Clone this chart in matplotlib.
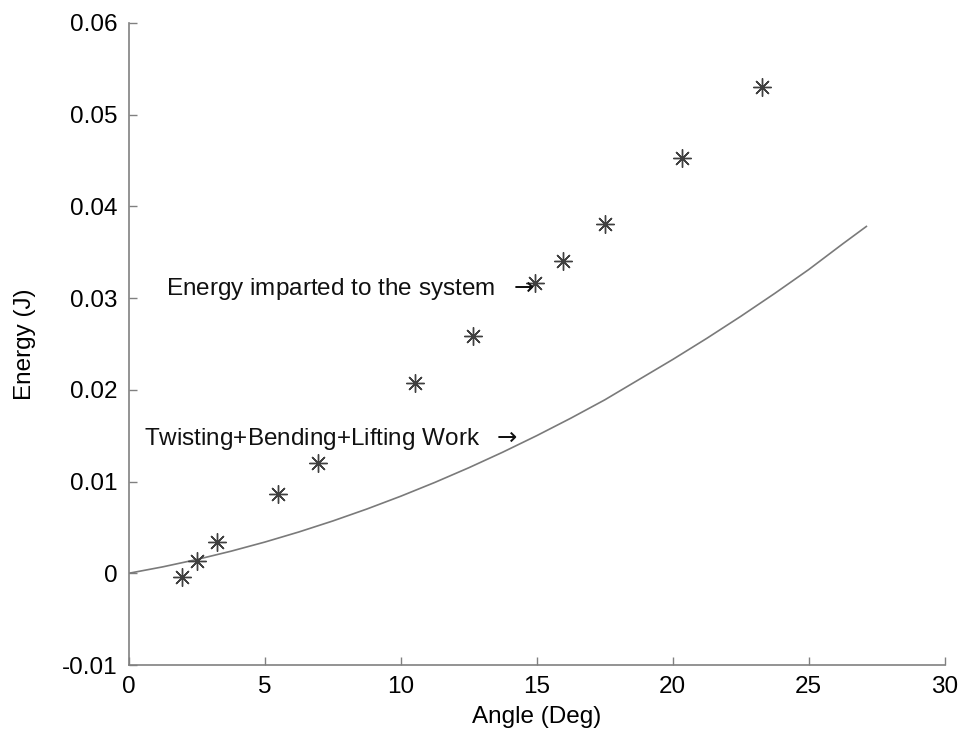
import numpy as np
import matplotlib.pyplot as plt

plt.rcParams['font.family'] = ['Liberation Sans', 'DejaVu Sans']
plt.rcParams['mathtext.fontset'] = 'dejavusans'

# measured points (asterisks)
angle_meas = [1.94, 2.49, 3.25, 5.48, 6.94, 10.51, 12.66, 14.93, 15.97, 17.50, 20.33, 23.30]
energy_meas = [-0.00036, 0.00135, 0.00337, 0.00866, 0.01207, 0.0207, 0.02584, 0.03163,
               0.03399, 0.03809, 0.04529, 0.05304]

# work curve
angle_work = [0, 1.25, 2.5, 3.75, 5, 6.25, 7.5, 8.75, 10, 11.25, 12.5, 13.75, 15, 16.25,
              17.5, 18.75, 20, 21.25, 22.5, 23.75, 25, 26.25, 27.12]
energy_work = [0, 0.0007, 0.0015, 0.0024, 0.0034, 0.0045, 0.0057, 0.0070, 0.0084, 0.0099,
               0.0115, 0.0132, 0.0150, 0.0169, 0.0189, 0.0211, 0.0233, 0.0256, 0.0280,
               0.0305, 0.0331, 0.0359, 0.0378]

xticks = [0, 5, 10, 15, 20, 25, 30]
yticks = [-0.01, 0, 0.01, 0.02, 0.03, 0.04, 0.05, 0.06]
ytick_labels = ['-0.01', '0', '0.01', '0.02', '0.03', '0.04', '0.05', '0.06']

fig = plt.figure(figsize=(9.62, 7.34), dpi=100)
ax = fig.add_axes([0.134, 0.094, 0.848, 0.875])

ax.plot(angle_work, energy_work, color='#7a7a7a', linewidth=1.2)
ax.plot(angle_meas, energy_meas, linestyle='none', marker=(8, 2, 0), markersize=13,
        markeredgecolor='#404040', markeredgewidth=1.0)

ax.text(1.35, 0.0310, r'Energy imparted to the system  $\rightarrow$', fontsize=17.5,
        va='center', ha='left', color='#111111')
ax.text(0.55, 0.0146, r'Twisting+Bending+Lifting Work  $\rightarrow$', fontsize=17.5,
        va='center', ha='left', color='#111111')

ax.set_xlim(0, 30)
ax.set_ylim(-0.01, 0.06)
ax.set_xticks(xticks)
ax.set_yticks(yticks)
ax.set_yticklabels(ytick_labels)
ax.tick_params(direction='in', length=6, width=1, color='#808080', labelsize=17.5, pad=8)

for side in ['top', 'right']:
    ax.spines[side].set_visible(False)
for side in ['left', 'bottom']:
    ax.spines[side].set_color('#808080')
    ax.spines[side].set_linewidth(1.2)

ax.set_xlabel('Angle (Deg)', fontsize=17.5, labelpad=6)
ax.set_ylabel('Energy (J)', fontsize=17.5, labelpad=19)

fig.savefig('out.png', dpi=100)
